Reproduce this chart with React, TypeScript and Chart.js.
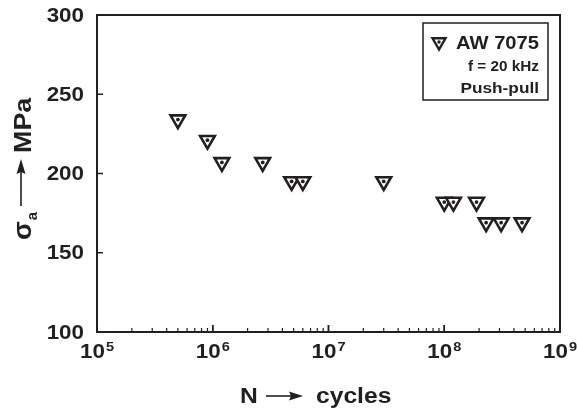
import React, { useEffect, useRef } from 'react';
import { Chart, registerables } from 'chart.js';

Chart.register(...registerables);

// ---- data ----
const cycles = [5e5, 9e5, 1.2e6, 2.7e6, 4.8e6, 6e6, 3e7, 1e8, 1.2e8, 1.9e8, 2.3e8, 3.1e8, 4.7e8];
const stressMPa = [234, 221, 207, 207, 195, 195, 195, 182, 182, 182, 169, 169, 169];
const yTicks = [100, 150, 200, 250, 300];
const xDecades = [5, 6, 7, 8, 9];
const legendTitle = 'AW 7075';
const legendLines = ['f = 20 kHz', 'Push-pull'];
const xTitleParts = ['N', 'cycles'];
const yTitleParts = ['σ', 'a', 'MPa'];

const INK = '#231f20';
const FONT = '"Liberation Sans", Arial, Helvetica, sans-serif';
const SX = 1.12; // horizontal stretch of text in reference

function stretchedText(ctx: CanvasRenderingContext2D, text: string, x: number, y: number, align: 'left' | 'right' | 'center', sx = SX) {
  const w = ctx.measureText(text).width * sx;
  let left = x;
  if (align === 'right') left = x - w;
  else if (align === 'center') left = x - w / 2;
  ctx.save();
  ctx.textAlign = 'left';
  ctx.translate(left, y);
  ctx.scale(sx, 1);
  ctx.fillText(text, 0, 0);
  ctx.restore();
  return w;
}

function invTri(ctx: CanvasRenderingContext2D, x: number, y: number, r: number) {
  const h = (r * Math.sqrt(3)) / 2;
  ctx.beginPath();
  ctx.moveTo(x, y + r);
  ctx.lineTo(x - h, y - r / 2);
  ctx.lineTo(x + h, y - r / 2);
  ctx.closePath();
}

const decor = {
  id: 'decor',
  afterDraw(chart: any) {
    const { ctx, chartArea: a, scales } = chart;
    const xs = scales.x;
    const ys = scales.y;
    ctx.save();
    ctx.strokeStyle = INK;
    ctx.fillStyle = INK;

    // frame
    ctx.lineWidth = 2;
    ctx.strokeRect(a.left, a.top, a.right - a.left, a.bottom - a.top);

    // y ticks (inward)
    ctx.lineWidth = 1.5;
    yTicks.forEach((v) => {
      const py = ys.getPixelForValue(v);
      ctx.beginPath();
      ctx.moveTo(a.left, py);
      ctx.lineTo(a.left + 6, py);
      ctx.stroke();
    });

    // x ticks (inward), major + minor
    for (let d = xDecades[0]; d < xDecades[xDecades.length - 1]; d++) {
      for (let m = 1; m <= 10; m++) {
        const v = m * Math.pow(10, d);
        const px = xs.getPixelForValue(v);
        const len = m === 1 || m === 10 ? 7 : 4;
        ctx.lineWidth = m === 1 || m === 10 ? 1.5 : 1.2;
        ctx.beginPath();
        ctx.moveTo(px, a.bottom);
        ctx.lineTo(px, a.bottom - len);
        ctx.stroke();
      }
    }

    // y tick labels
    ctx.font = `bold 20px ${FONT}`;
    ctx.textBaseline = 'middle';
    yTicks.forEach((v) => {
      const py = ys.getPixelForValue(v);
      stretchedText(ctx, String(v), a.left - 13, py + 1, 'right');
    });

    // x tick labels 10^n
    ctx.textBaseline = 'alphabetic';
    xDecades.forEach((e) => {
      const px = xs.getPixelForValue(Math.pow(10, e));
      ctx.font = `bold 20px ${FONT}`;
      const wb = ctx.measureText('10').width * SX;
      ctx.font = `bold 13px ${FONT}`;
      const we = ctx.measureText(String(e)).width * SX;
      const start = px - (wb + we + 1) / 2;
      ctx.font = `bold 20px ${FONT}`;
      stretchedText(ctx, '10', start, 358, 'left');
      ctx.font = `bold 13px ${FONT}`;
      stretchedText(ctx, String(e), start + wb + 1, 351, 'left');
    });

    // x title: N -> cycles
    ctx.font = `bold 22px ${FONT}`;
    stretchedText(ctx, xTitleParts[0], 240, 403, 'left');
    ctx.lineWidth = 1.6;
    ctx.beginPath();
    ctx.moveTo(266, 396);
    ctx.lineTo(292, 396);
    ctx.stroke();
    ctx.beginPath();
    ctx.moveTo(303, 396);
    ctx.lineTo(289, 391.5);
    ctx.lineTo(291, 396);
    ctx.lineTo(289, 400.5);
    ctx.closePath();
    ctx.fill();
    stretchedText(ctx, xTitleParts[1], 316, 403, 'left');

    // y title: sigma_a -> MPa (rotated)
    ctx.save();
    ctx.translate(31, 0);
    ctx.rotate(-Math.PI / 2);
    ctx.textAlign = 'left';
    ctx.font = `bold 26px ${FONT}`;
    const wsig = stretchedText(ctx, yTitleParts[0], -240, 0, 'left', 1.05);
    ctx.font = `bold 14px ${FONT}`;
    stretchedText(ctx, yTitleParts[1], -240 + wsig + 1, 6, 'left', 1.05);
    ctx.lineWidth = 1.6;
    ctx.beginPath();
    ctx.moveTo(-206, -10);
    ctx.lineTo(-172, -10);
    ctx.stroke();
    ctx.beginPath();
    ctx.moveTo(-159, -10);
    ctx.lineTo(-174, -14.5);
    ctx.lineTo(-172, -10);
    ctx.lineTo(-174, -5.5);
    ctx.closePath();
    ctx.fill();
    ctx.font = `bold 24px ${FONT}`;
    stretchedText(ctx, yTitleParts[2], -153, 0, 'left', 1.12);
    ctx.restore();

    // legend box
    ctx.lineWidth = 1.5;
    ctx.strokeRect(423, 23, 125, 77);
    ctx.fillStyle = '#ffffff';
    invTri(ctx, 439, 42, 7.5);
    ctx.fill();
    ctx.lineWidth = 2.4;
    ctx.stroke();
    ctx.fillStyle = INK;
    ctx.beginPath();
    ctx.arc(439, 42, 1.7, 0, Math.PI * 2);
    ctx.fill();
    ctx.font = `bold 18px ${FONT}`;
    ctx.textBaseline = 'alphabetic';
    stretchedText(ctx, legendTitle, 539, 49, 'right');
    ctx.font = `bold 15px ${FONT}`;
    stretchedText(ctx, legendLines[0], 539, 71, 'right', 1.02);
    stretchedText(ctx, legendLines[1], 539, 93, 'right', 1.15);

    ctx.restore();
  },
};

export default function App() {
  const ref = useRef<HTMLCanvasElement | null>(null);
  useEffect(() => {
    if (!ref.current) return;
    const pts = cycles.map((c, i) => ({ x: c, y: stressMPa[i] }));
    const chart = new Chart(ref.current, {
      type: 'scatter',
      data: {
        datasets: [
          {
            label: legendTitle,
            data: pts,
            order: 2,
            pointStyle: 'triangle',
            rotation: 180,
            radius: 8.5,
            borderWidth: 2.6,
            borderColor: INK,
            backgroundColor: '#ffffff',
            showLine: false,
          } as any,
          {
            label: 'center',
            data: pts,
            order: 1,
            pointStyle: 'circle',
            radius: 1.9,
            borderWidth: 0,
            backgroundColor: INK,
            showLine: false,
          } as any,
        ],
      },
      options: {
        animation: false,
        responsive: true,
        maintainAspectRatio: false,
        layout: { padding: { top: 15, right: 17, left: 0, bottom: 0 } },
        plugins: { legend: { display: false }, tooltip: { enabled: false } },
        scales: {
          x: {
            type: 'logarithmic',
            min: 1e5,
            max: 1e9,
            grid: { display: false },
            border: { display: false },
            ticks: { display: false },
            afterFit: (s: any) => {
              s.height = 77;
            },
          },
          y: {
            type: 'linear',
            min: 100,
            max: 300,
            grid: { display: false },
            border: { display: false },
            ticks: { display: false },
            afterFit: (s: any) => {
              s.width = 97;
            },
          },
        },
      } as any,
      plugins: [decor],
    });
    return () => chart.destroy();
  }, []);
  return (
    <div style={{ position: 'absolute', left: 0, top: 0, width: 577, height: 409, background: '#fff' }}>
      <canvas ref={ref} />
    </div>
  );
}
